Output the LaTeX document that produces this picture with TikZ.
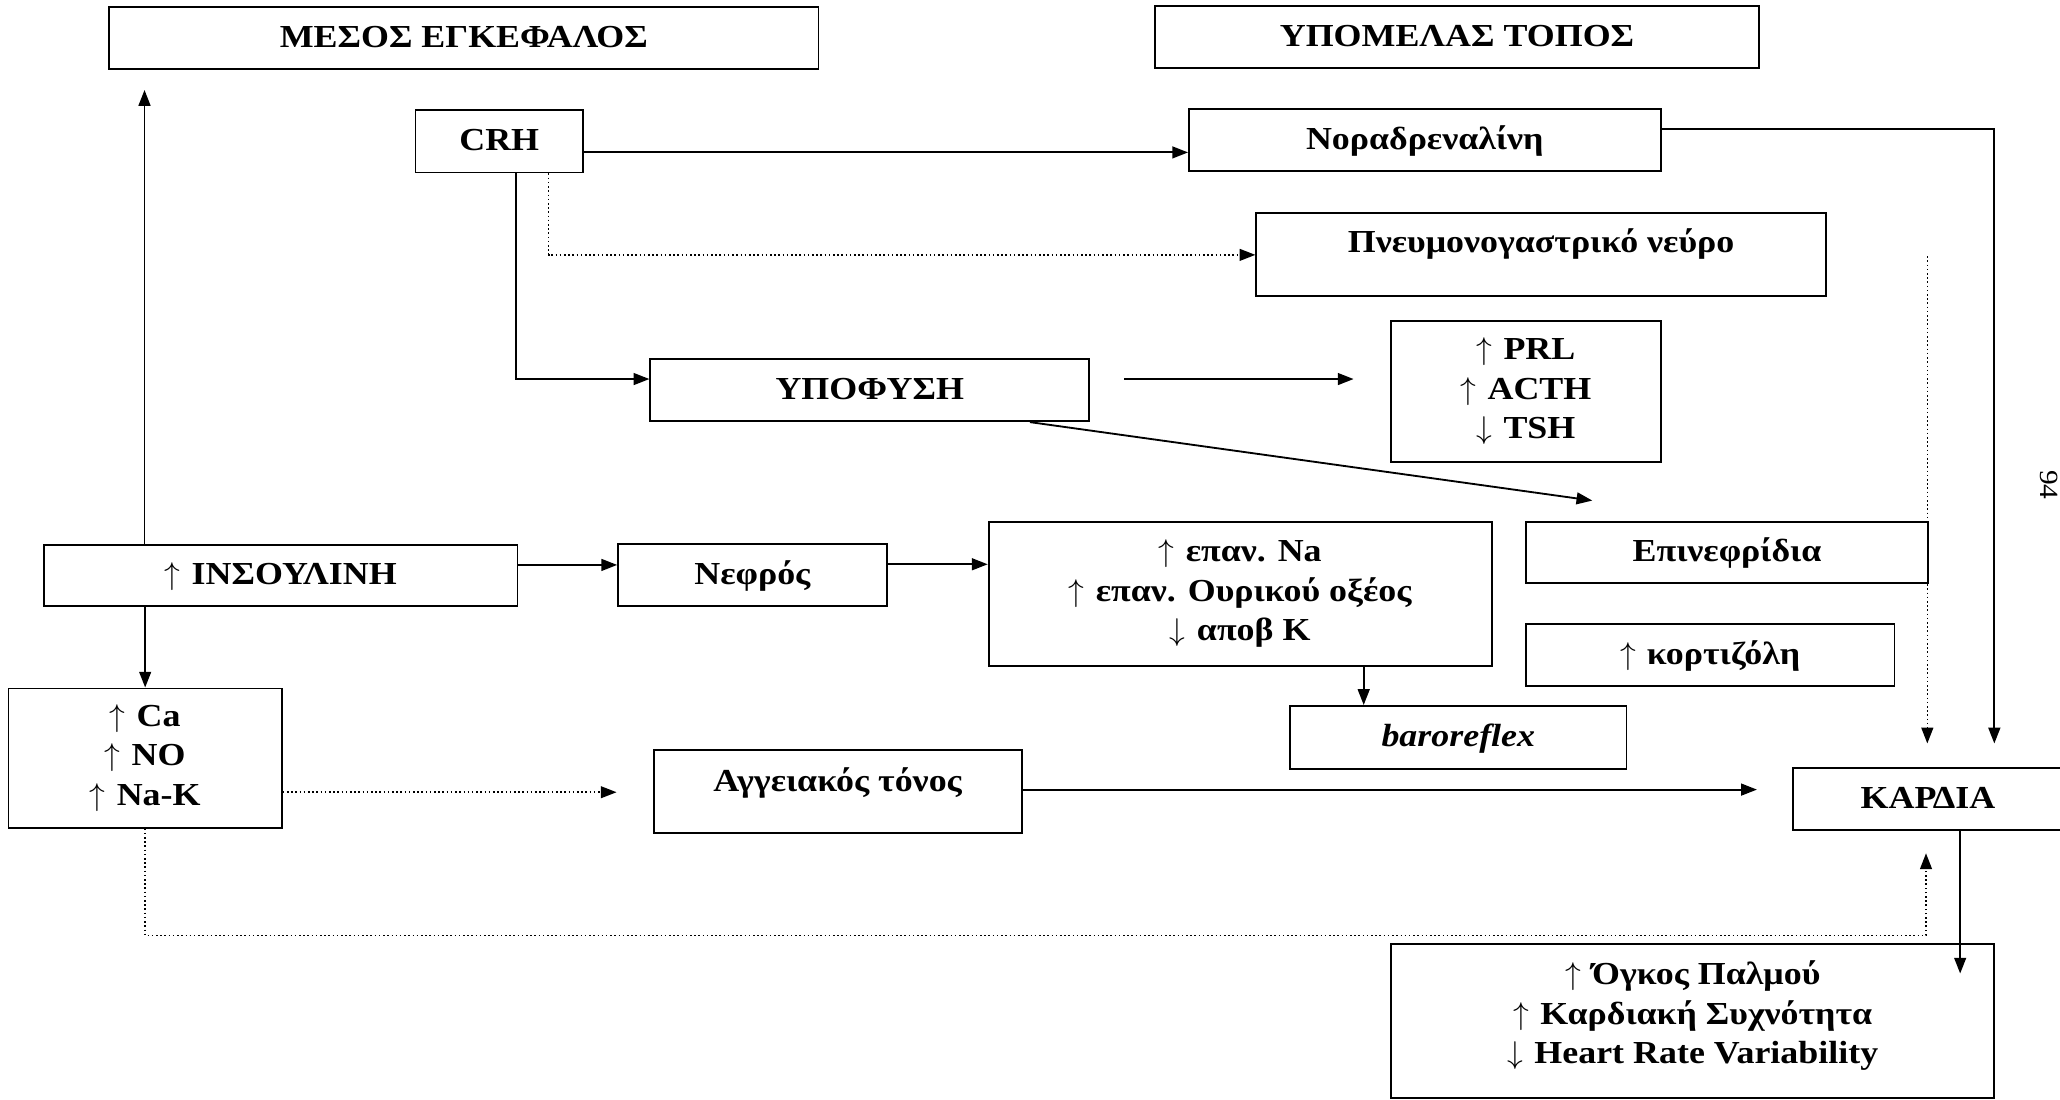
\documentclass[tikz,border=0pt]{standalone}
\usepackage{fontspec}
\setmainfont[FakeStretch=1.12]{Liberation Serif}
\usetikzlibrary{arrows.meta,calc}
\newcommand\myup{\(\uparrow\)\hspace{0.35em}}
\newcommand\mydown{\(\downarrow\)\hspace{0.35em}}
\begin{document}
\begin{tikzpicture}[x=0.5pt,y=-0.5pt,
  box/.style={draw, line width=0.7pt, inner sep=0pt, font=\bfseries\fontsize{12.2}{15}\selectfont, align=center},
  one/.style={text height=9.7pt, text depth=2.5pt},
  arr/.style={line width=0.7pt, -{Triangle[length=6pt,width=4.5pt]}},
  dotarr/.style={line width=0.6pt, densely dotted, -{Triangle[length=6pt,width=4.5pt]}},
]
\useasboundingbox (0,0) rectangle (1568,837);
\clip (0,0) rectangle (1568,837);

% boxes
\node[box,one,minimum width=270pt,minimum height=23.5pt] (mesos) at (353,28.7) {ΜΕΣΟΣ ΕΓΚΕΦΑΛΟΣ};
\node[box,one,minimum width=230pt,minimum height=23.75pt] (ypomelas) at (1109,28.3) {ΥΠΟΜΕΛΑΣ ΤΟΠΟΣ};
\node[box,one,minimum width=63.75pt,minimum height=23.85pt] (crh) at (380,107.5) {CRH};
\node[box,one,minimum width=179.5pt,minimum height=23.5pt] (norad) at (1084.5,106.5) {Νοραδρεναλίνη};
\node[box,text height=9.7pt,text depth=11pt,minimum width=216.75pt,minimum height=31.5pt] (pneum) at (1173,193.5) {Πνευμονογαστρικό νεύρο};
\node[box,one,minimum width=167pt,minimum height=23.6pt] (ypofysi) at (662,297) {ΥΠΟΦΥΣΗ};
\node[box,minimum width=102.5pt,minimum height=53.5pt] (prl) at (1161.5,298) {\myup{}PRL\\\myup{}ACTH\\\mydown{}TSH};
\node[box,one,minimum width=153pt,minimum height=23.4pt] (epinef) at (1314.5,420.4) {Επινεφρίδια};
\node[box,one,minimum width=180.25pt,minimum height=23pt] (ins) at (213.7,438) {\myup{}ΙΝΣΟΥΛΙΝΗ};
\node[box,one,minimum width=102.25pt,minimum height=23.5pt] (nefros) at (572.7,437.5) {Νεφρός};
\node[box,minimum width=191.5pt,minimum height=55pt] (epan) at (944,452) {\myup{}επαν. Na\\\myup{}επαν. Ουρικού οξέος\\\mydown{}αποβ K};
\node[box,one,minimum width=140.25pt,minimum height=23.5pt] (kortiz) at (1301.7,498.5) {\myup{}κορτιζόλη};
\node[box,one,minimum width=128pt,minimum height=24pt] (baro) at (1110,561.3) {\itshape baroreflex};
\node[box,minimum width=104pt,minimum height=53pt] (ca) at (110.5,577) {\myup{}Ca\\\myup{}NO\\\myup{}Na-K};
\node[box,text height=9.7pt,text depth=9.8pt,minimum width=140pt,minimum height=31.5pt] (angeia) at (637.6,602.3) {Αγγειακός τόνος};
\node[box,one,minimum width=102.5pt,minimum height=23.6pt] (kardia) at (1467.5,608.2) {ΚΑΡΔΙΑ};
\node[box,minimum width=229.5pt,minimum height=58.5pt] (out) at (1288.5,777) {};
\node[box,draw=none] (outtxt) at (1288.5,773) {\myup{}Όγκος Παλμού\\\myup{}Καρδιακή Συχνότητα\\\mydown{}Heart Rate Variability};
\node[font=\fontsize{10}{12}\selectfont, rotate=-90] (page) at (1560,369) {94};

% connectors
\coordinate (mesosTip) at (110,68.5);
\draw[arr] (ins.north -| mesosTip) -- (mesosTip);
\draw[arr] (crh.east |- 0,116) -- (norad.west |- 0,116);
\draw[arr] (crh.south -| 392.6,0) |- (ypofysi.west |- 0,288.5);
\draw[dotarr] (crh.south -| 417.6,0) |- (pneum.west |- 0,194);
\draw[arr, shorten <=13pt, shorten >=14pt] (ypofysi.east |- 0,288.5) -- (prl.west |- 0,288.5);
\coordinate (epinTip) at (1212,381);
\draw[arr] (ypofysi.south -| 784,0) -- (epinTip);
\draw[arr, shorten >=9pt] (norad.east |- 0,98.5) -| (kardia.north -| 1518,0);
\coordinate (vagusOut) at (1467,195);
\draw[dotarr, shorten >=9pt] (vagusOut) -- (kardia.north -| vagusOut);
\draw[arr] (ins.east |- 0,430) -- (nefros.west |- 0,430);
\draw[arr] (nefros.east |- 0,429.5) -- (epan.west |- 0,429.5);
\draw[arr] (ins.south -| ca.north) -- (ca.north);
\draw[dotarr, shorten >=13.8pt] (ca.east |- 0,603) -- (angeia.west |- 0,603);
\draw[arr, shorten >=13.5pt] (angeia.east |- 0,601) -- (kardia.west |- 0,601);
\draw[arr] (epan.south -| 1038,0) -- (baro.north -| 1038,0);
\draw[dotarr, shorten >=8.5pt] (ca.south) -- (ca.south |- 0,712) -| (kardia.south -| 1466,0);
\coordinate (outTip) at (1492,741);
\draw[arr] (kardia.south -| outTip) -- (outTip);
\end{tikzpicture}
\end{document}
